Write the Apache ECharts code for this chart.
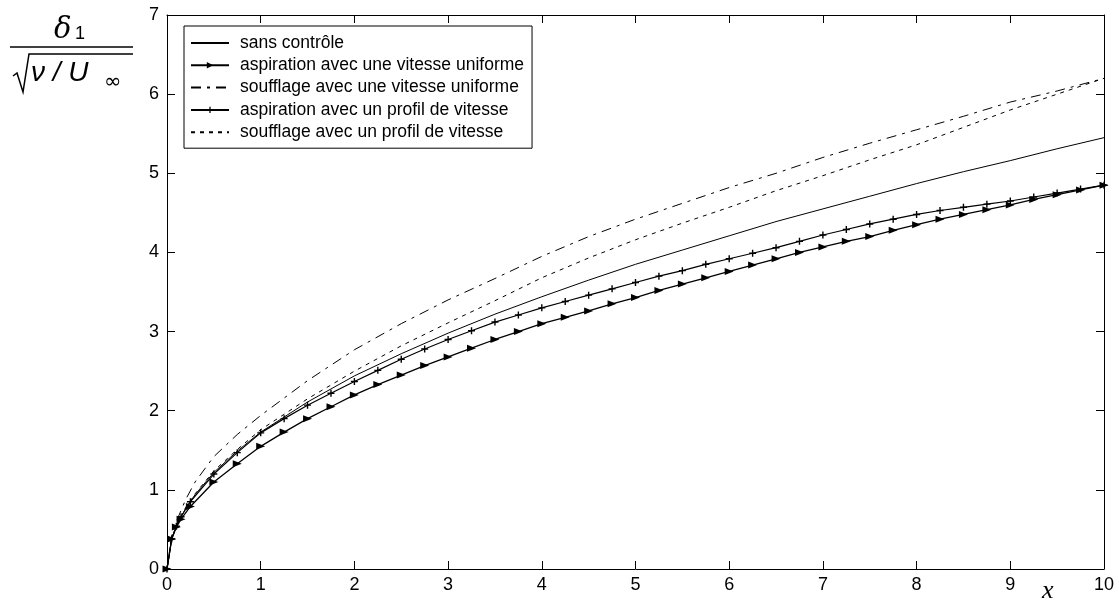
<!DOCTYPE html>
<html>
<head>
<meta charset="utf-8">
<script src="https://cdn.jsdelivr.net/npm/echarts@6/dist/echarts.min.js"></script>
<style>html,body{margin:0;padding:0;background:#fff;}#c{width:1119px;height:606px;}</style>
</head>
<body>
<div id="c"></div>
<script>
// x positions for series without markers
const xCoarse = [0,0.05,0.1,0.2,0.3,0.5,0.75,1,1.5,2,2.5,3,3.5,4,4.5,5,5.5,6,6.5,7,7.5,8,8.5,9,9.5,10];
// x positions for series with markers
const xFine = [0,0.05,0.1,0.15,0.25,0.5,0.75,1,1.25,1.5,1.75,2,2.25,2.5,2.75,3,3.25,3.5,3.75,4,4.25,4.5,4.75,5,5.25,5.5,5.75,6,6.25,6.5,6.75,7,7.25,7.5,7.75,8,8.25,8.5,8.75,9,9.25,9.5,9.75,10];

const sansControle = [0,0.38,0.54,0.77,0.94,1.22,1.49,1.73,2.11,2.44,2.72,2.98,3.22,3.44,3.65,3.85,4.03,4.21,4.39,4.55,4.71,4.87,5.02,5.16,5.31,5.45];
const souffUniforme = [0,0.42,0.6,0.88,1.1,1.42,1.7,1.94,2.38,2.77,3.1,3.4,3.67,3.95,4.2,4.42,4.62,4.82,5.0,5.2,5.38,5.55,5.72,5.9,6.04,6.2];
const souffProfil = [0,0.38,0.55,0.78,0.95,1.24,1.51,1.76,2.15,2.5,2.82,3.11,3.39,3.68,3.93,4.16,4.37,4.57,4.78,4.97,5.17,5.36,5.58,5.8,6.0,6.2];
const aspUniforme = [0,0.38,0.53,0.63,0.79,1.1,1.33,1.55,1.73,1.9,2.05,2.2,2.33,2.45,2.57,2.68,2.79,2.9,3.0,3.1,3.18,3.26,3.35,3.43,3.52,3.6,3.68,3.76,3.84,3.92,4.0,4.07,4.14,4.2,4.28,4.35,4.42,4.48,4.54,4.6,4.67,4.73,4.79,4.85];
const aspProfil = [0,0.38,0.54,0.66,0.85,1.2,1.47,1.72,1.9,2.07,2.22,2.37,2.51,2.65,2.78,2.9,3.01,3.12,3.21,3.3,3.38,3.46,3.54,3.62,3.7,3.77,3.85,3.92,3.99,4.06,4.14,4.22,4.29,4.36,4.42,4.48,4.53,4.57,4.61,4.65,4.7,4.75,4.8,4.85];

const names = ['sans contrôle','aspiration avec une vitesse uniforme','soufflage avec une vitesse uniforme','aspiration avec un profil de vitesse','soufflage avec un profil de vitesse'];

function pairs(xs, ys){ return xs.map((x,i)=>[x, ys[i]]); }

const chart = echarts.init(document.getElementById('c'), null, {renderer:'canvas'});
const font = 'Liberation Sans, Arial, sans-serif';
const axisCommon = {
  axisLine:{show:true, onZero:false, lineStyle:{color:'#000', width:1}},
  axisTick:{show:true, inside:true, length:8, lineStyle:{color:'#000'}},
  splitLine:{show:false}
};
const plusPath = 'path://M4,0h2v4h4v2h-4v4h-2v-4h-4v-2h4z';
const hidden = {color:'rgba(0,0,0,0)', borderColor:'rgba(0,0,0,0)', borderWidth:0};

chart.setOption({
  animation:false,
  backgroundColor:'#fff',
  grid:{left:167, right:15, top:15, bottom:37, containLabel:false},
  xAxis:[
    Object.assign({type:'value', min:0, max:10, interval:1, position:'bottom',
      axisLabel:{color:'#000', fontSize:18, fontFamily:font, margin:7}}, axisCommon),
    Object.assign({type:'value', min:0, max:10, interval:1, position:'top',
      axisLabel:{show:false}}, axisCommon)
  ],
  yAxis:[
    Object.assign({type:'value', min:0, max:7, interval:1, position:'left',
      axisLabel:{color:'#000', fontSize:18, fontFamily:font, margin:8}}, axisCommon),
    Object.assign({type:'value', min:0, max:7, interval:1, position:'right',
      axisLabel:{show:false}}, axisCommon)
  ],
  legend:{
    orient:'vertical', left:184, top:26,
    itemWidth:38, itemHeight:8, itemGap:4.3,
    padding:[8,8,7,6],
    borderColor:'#000', borderWidth:1, backgroundColor:'#fff',
    textStyle:{color:'#000', fontSize:17.5, fontFamily:font, padding:[0,0,0,6]},
    data:[
      {name:names[0], itemStyle:hidden},
      {name:names[1]},
      {name:names[2], itemStyle:hidden},
      {name:names[3]},
      {name:names[4], itemStyle:hidden}
    ]
  },
  series:[
    {name:names[0], type:'line', data:pairs(xCoarse, sansControle), showSymbol:false, symbol:'none',
      lineStyle:{color:'#000', width:1}, itemStyle:{color:'#000'}, z:3},
    {name:names[1], type:'line', data:pairs(xFine, aspUniforme), symbol:'triangle', symbolSize:[7,9], symbolRotate:-90,
      showSymbol:true, lineStyle:{color:'#000', width:1.3}, itemStyle:{color:'#000'}, z:3},
    {name:names[2], type:'line', data:pairs(xCoarse, souffUniforme), symbol:'none',
      lineStyle:{color:'#000', width:1, type:[10,6,3,6]}, itemStyle:{color:'#000'}, z:3},
    {name:names[3], type:'line', data:pairs(xFine, aspProfil), symbol:plusPath, symbolSize:7,
      showSymbol:true, lineStyle:{color:'#000', width:1.2}, itemStyle:{color:'#000'}, z:3},
    {name:names[4], type:'line', data:pairs(xCoarse, souffProfil), symbol:'none',
      lineStyle:{color:'#000', width:1, type:[4,5]}, itemStyle:{color:'#000'}, z:3}
  ],
  graphic:[
    {type:'text', left:54, top:16, style:{text:'δ', font:'italic 29px "DejaVu Serif", serif', fill:'#000'}},
    {type:'text', left:75, top:25, style:{text:'1', font:'18px ' + font, fill:'#000'}},
    {type:'line', shape:{x1:10, y1:47, x2:133, y2:47}, style:{stroke:'#000', lineWidth:1.5}},
    {type:'polyline', shape:{points:[[13,76],[17,73],[23,92],[29,54],[133,54]]}, style:{stroke:'#000', lineWidth:1.5, fill:null}},
    {type:'text', left:31, top:59, style:{text:'ν / U', font:'italic 28px ' + font, fill:'#000'}},
    {type:'text', left:104, top:72, style:{text:'∞', font:'21px "DejaVu Sans", sans-serif', fill:'#000'}},
    {type:'text', left:1042, top:578, style:{text:'x', font:'italic 26px "Liberation Serif", "Times New Roman", serif', fill:'#000'}}
  ]
});
</script>
</body>
</html>
